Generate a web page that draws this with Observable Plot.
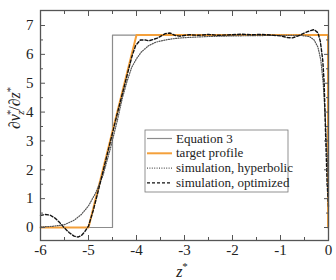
<!DOCTYPE html>
<html><head><meta charset="utf-8">
<script src="https://cdn.jsdelivr.net/npm/d3@7"></script>
<script src="https://cdn.jsdelivr.net/npm/@observablehq/plot@0.6"></script>
<style>
html,body{margin:0;padding:0;background:#fff;}
#chart{width:336px;height:280px;}
</style></head><body><div id="chart"></div>
<script>
// Equation 3 (step profile)
const eqZ = [-6, -4.5, -4.5, 0, 0];
const eqV = [0, 0, 6.67, 6.67, 0];
// target profile
const tgZ = [-6, -5, -4, -0.01, -0.01];
const tgV = [0, 0, 6.67, 6.67, 0];
// simulation, hyperbolic
const hyZ = [-6, -5.75, -5.5, -5.3, -5.15, -5.0, -4.85, -4.7, -4.55, -4.4, -4.3, -4.2, -4.1, -4.0, -3.9, -3.75, -3.6, -3.4, -3.2, -3.0, -2.5, -2.0, -1.5, -1.0, -0.6, -0.4, -0.3, -0.22, -0.16, -0.11, -0.07, -0.04, 0];
const hyV = [0.02, 0.04, 0.1, 0.25, 0.45, 0.75, 1.2, 1.8, 2.7, 3.7, 4.45, 5.05, 5.55, 5.85, 6.08, 6.3, 6.42, 6.5, 6.55, 6.58, 6.62, 6.64, 6.65, 6.66, 6.66, 6.62, 6.5, 6.25, 5.8, 5.0, 3.9, 2.8, 1.6];
// simulation, optimized
const opZ = [-6, -5.9, -5.8, -5.7, -5.6, -5.5, -5.4, -5.3, -5.22, -5.15, -5.08, -5.0, -4.9, -4.8, -4.6, -4.4, -4.2, -4.1, -4.02, -3.92, -3.82, -3.74, -3.57, -3.4, -3.3, -3.2, -3.1, -2.9, -2.7, -2.5, -2.3, -2.0, -1.8, -1.6, -1.4, -1.2, -1.0, -0.85, -0.75, -0.6, -0.45, -0.3, -0.22, -0.17, -0.12, -0.09, -0.06, -0.03, 0];
const opV = [0.42, 0.45, 0.43, 0.33, 0.17, -0.02, -0.18, -0.3, -0.33, -0.28, -0.15, 0.05, 0.6, 1.25, 2.6, 3.95, 5.25, 5.9, 6.3, 6.5, 6.5, 6.47, 6.56, 6.72, 6.74, 6.66, 6.63, 6.68, 6.66, 6.69, 6.66, 6.68, 6.7, 6.68, 6.69, 6.67, 6.64, 6.58, 6.57, 6.66, 6.78, 6.86, 6.75, 6.45, 5.8, 5.0, 3.2, 1.6, 0.7];

const xTicks = [-6, -5, -4, -3, -2, -1, 0];
const xMinor = [-5.5, -4.5, -3.5, -2.5, -1.5, -0.5];
const yTicks = [0, 1, 2, 3, 4, 5, 6, 7];
const yMinor = [0.5, 1.5, 2.5, 3.5, 4.5, 5.5, 6.5];

const series = [
  {name: "Equation 3", z: eqZ, v: eqV, stroke: "#8c8c8c", width: 1.2, dash: null},
  {name: "target profile", z: tgZ, v: tgV, stroke: "#f4a03a", width: 2, dash: null},
  {name: "simulation, hyperbolic", z: hyZ, v: hyV, stroke: "#555", width: 1.2, dash: "1,1.4"},
  {name: "simulation, optimized", z: opZ, v: opV, stroke: "#111", width: 1.4, dash: "3,2"}
];
const toRows = s => s.z.map((z, i) => ({z, v: s.v[i]}));

const axisStroke = "#555";
const font = "'Liberation Serif', 'DejaVu Serif', serif";
const blank = () => "";

const plot = Plot.plot({
  width: 336, height: 280,
  marginLeft: 40, marginRight: 8, marginTop: 10, marginBottom: 40,
  x: {domain: [-6, 0]},
  y: {domain: [-0.45, 7.52]},
  style: {fontFamily: font, fontSize: "15px", color: "#222", background: "white"},
  marks: [
    ...series.map(s => Plot.line(toRows(s), {x: "z", y: "v", stroke: s.stroke, strokeWidth: s.width, strokeDasharray: s.dash, curve: "linear"})),
    Plot.frame({stroke: axisStroke, strokeWidth: 1.3}),
    Plot.axisX({ticks: xTicks, tickSize: -5, tickPadding: 9, stroke: axisStroke, label: null, tickFormat: d => String(d)}),
    Plot.axisX({ticks: xMinor, tickSize: -3, stroke: axisStroke, tickFormat: blank, label: null}),
    Plot.axisX({anchor: "top", ticks: xTicks, tickSize: -5, stroke: axisStroke, tickFormat: blank, label: null}),
    Plot.axisX({anchor: "top", ticks: xMinor, tickSize: -3, stroke: axisStroke, tickFormat: blank, label: null}),
    Plot.axisY({ticks: yTicks, tickSize: -5, tickPadding: 12, stroke: axisStroke, label: null}),
    Plot.axisY({ticks: yMinor, tickSize: -3, stroke: axisStroke, tickFormat: blank, label: null}),
    Plot.axisY({anchor: "right", ticks: yTicks, tickSize: -5, stroke: axisStroke, tickFormat: blank, label: null}),
    Plot.axisY({anchor: "right", ticks: yMinor, tickSize: -3, stroke: axisStroke, tickFormat: blank, label: null})
  ]
});
document.getElementById("chart").appendChild(plot);

const svg = d3.select(plot);
// x label
const xl = svg.append("text").attr("x", 182).attr("y", 277).attr("text-anchor", "middle")
  .attr("font-family", font).attr("font-size", 16).attr("fill", "#222");
xl.append("tspan").attr("font-style", "italic").text("z");
xl.append("tspan").attr("dy", -7).attr("font-size", 11).text("*");

// y label
const yl = svg.append("text").attr("transform", "translate(20,108) rotate(-90)").attr("text-anchor", "middle")
  .attr("font-family", font).attr("font-size", 16).attr("fill", "#222");
yl.append("tspan").text("\u2202");
yl.append("tspan").attr("font-style", "italic").text("v");
yl.append("tspan").attr("font-size", 10.5).attr("dy", -6).attr("dx", -1).text("*");
yl.append("tspan").attr("font-size", 10.5).attr("font-style", "italic").attr("dy", 10).attr("dx", -5).text("z");
yl.append("tspan").attr("dy", -4).text("/\u2202");
yl.append("tspan").attr("font-style", "italic").text("z");
yl.append("tspan").attr("font-size", 10.5).attr("dy", -6).text("*");

// legend
const lg = svg.append("g").attr("transform", "translate(145,130)");
lg.append("rect").attr("width", 143).attr("height", 62).attr("fill", "white").attr("stroke", "#777").attr("stroke-width", 0.8);
series.forEach((s, i) => {
  const y = 8.5 + i * 14.8;
  lg.append("line").attr("x1", 2).attr("x2", 27).attr("y1", y).attr("y2", y)
    .attr("stroke", s.stroke).attr("stroke-width", s.width).attr("stroke-dasharray", s.dash);
  lg.append("text").attr("x", 31).attr("y", y + 4).attr("text-anchor", "start").attr("font-family", font)
    .attr("font-size", 13).attr("fill", "#222").text(s.name);
});
</script></body></html>
